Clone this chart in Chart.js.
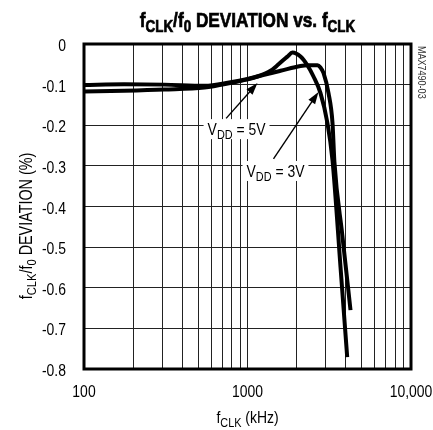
<!DOCTYPE html>
<html>
<head>
<meta charset="utf-8">
<script src="https://cdn.jsdelivr.net/npm/chart.js@4.4.1/dist/chart.umd.min.js"></script>
<style>
  body { margin: 0; background: #fff; }
  #wrap { width: 433px; height: 430px; }
</style>
</head>
<body>
<div id="wrap"><canvas id="dev-chart" width="433" height="430"></canvas></div>
<script>
const FONT = "'Liberation Sans', Arial, sans-serif";
const SQUEEZE = 0.82; // narrow look, Liberation Sans Narrow is not installed

// x values in kHz, deviation in %
const freq5V = [100, 176, 309, 546, 787, 1000, 1151, 1383, 1591, 2110, 2328, 2680, 2796, 2916, 3129, 3311, 3400, 3800, 4266];
const dev5V  = [-0.101, -0.099, -0.100, -0.103, -0.094, -0.086, -0.080, -0.072, -0.066, -0.054, -0.052, -0.052, -0.058, -0.071, -0.121, -0.195, -0.290, -0.470, -0.655];

const freq3V = [100, 176, 309, 546, 787, 1000, 1151, 1383, 1548, 1753, 1884, 2110, 2328, 2533, 2796, 3084, 3311, 3706, 4072];
const dev3V  = [-0.117, -0.115, -0.112, -0.107, -0.096, -0.087, -0.080, -0.066, -0.050, -0.031, -0.021, -0.031, -0.053, -0.080, -0.121, -0.195, -0.286, -0.549, -0.771];

const xTicks = [100, 200, 300, 400, 500, 600, 700, 800, 900, 1000, 2000, 3000, 4000, 5000, 6000, 7000, 8000, 9000, 10000];
const xLabels = {100: '100', 1000: '1000', 10000: '10,000'};

// callouts: label position and arrow from/to, in data units
const callouts = [
  { text: [['V'], ['DD', 1], [' = 5V']], at: [857, -0.212], from: [740, -0.183], to: [1151, -0.096] },
  { text: [['V'], ['DD', 1], [' = 3V']], at: [1483, -0.315], from: [1442, -0.283], to: [2717, -0.118] }
];

function toPts(xs, ys) {
  return xs.map((x, i) => ({ x: x, y: ys[i] }));
}

function setFont(ctx, size, bold) {
  ctx.font = (bold ? 'bold ' : '') + size + 'px ' + FONT;
}

function richWidth(ctx, parts, size, bold) {
  let w = 0;
  parts.forEach(p => {
    setFont(ctx, p[1] ? size * 0.78 : size, bold);
    w += ctx.measureText(p[0]).width;
  });
  return w * SQUEEZE;
}

// draws text with subscript parts; align: left | center | right
function drawRich(ctx, parts, x, y, size, bold, align) {
  const w = richWidth(ctx, parts, size, bold);
  let sx = x;
  if (align === 'center') sx = x - w / 2;
  if (align === 'right') sx = x - w;
  ctx.save();
  ctx.translate(sx, y);
  ctx.scale(SQUEEZE, 1);
  ctx.textAlign = 'left';
  ctx.textBaseline = 'alphabetic';
  let cx = 0;
  parts.forEach(p => {
    setFont(ctx, p[1] ? size * 0.78 : size, bold);
    ctx.fillText(p[0], cx, p[1] ? size * 0.25 : 0);
    if (bold) {
      ctx.lineWidth = 0.7;
      ctx.strokeStyle = ctx.fillStyle;
      ctx.strokeText(p[0], cx, p[1] ? size * 0.25 : 0);
    }
    cx += ctx.measureText(p[0]).width;
  });
  ctx.restore();
  return w;
}

function arrow(ctx, x1, y1, x2, y2) {
  const a = Math.atan2(y2 - y1, x2 - x1);
  const len = 12, hw = 4;
  ctx.beginPath();
  ctx.moveTo(x1, y1);
  ctx.lineTo(x2 - Math.cos(a) * len * 0.8, y2 - Math.sin(a) * len * 0.8);
  ctx.lineWidth = 1.4;
  ctx.strokeStyle = '#000';
  ctx.stroke();
  ctx.beginPath();
  ctx.moveTo(x2, y2);
  ctx.lineTo(x2 - Math.cos(a) * len - Math.sin(a) * hw, y2 - Math.sin(a) * len + Math.cos(a) * hw);
  ctx.lineTo(x2 - Math.cos(a) * len + Math.sin(a) * hw, y2 - Math.sin(a) * len - Math.cos(a) * hw);
  ctx.closePath();
  ctx.fillStyle = '#000';
  ctx.fill();
}

const decorPlugin = {
  id: 'decor',
  beforeDraw(chart) {
    const ctx = chart.ctx;
    ctx.save();
    ctx.fillStyle = '#fff';
    ctx.fillRect(0, 0, chart.width, chart.height);
    ctx.restore();
  },
  afterDatasetsDraw(chart) {
    const ctx = chart.ctx;
    const xs = chart.scales.x, ys = chart.scales.y;
    const area = chart.chartArea;
    ctx.save();

    // callout labels with white boxes, then arrows
    callouts.forEach(c => {
      const px = xs.getPixelForValue(c.at[0]);
      const py = ys.getPixelForValue(c.at[1]);
      const w = richWidth(ctx, c.text, 17, false);
      ctx.fillStyle = '#fff';
      ctx.fillRect(px - w / 2 - 4, py - 11, w + 8, 20);
      ctx.fillStyle = '#000';
      drawRich(ctx, c.text, px, py + 5, 17, false, 'center');
      arrow(ctx, xs.getPixelForValue(c.from[0]), ys.getPixelForValue(c.from[1]),
                 xs.getPixelForValue(c.to[0]), ys.getPixelForValue(c.to[1]));
    });

    // frame
    ctx.lineWidth = 3;
    ctx.strokeStyle = '#000';
    ctx.strokeRect(area.left, area.top, area.right - area.left, area.bottom - area.top);

    ctx.fillStyle = '#000';

    // tick labels
    ys.ticks.forEach(t => {
      const v = t.value;
      const lab = Math.abs(v) < 1e-9 ? '0' : v.toFixed(1);
      drawRich(ctx, [[lab]], area.left - 18, ys.getPixelForValue(v) + 7, 17, false, 'right');
    });
    Object.keys(xLabels).forEach(k => {
      drawRich(ctx, [[xLabels[k]]], xs.getPixelForValue(+k), 397, 17, false, 'center');
    });

    // title
    const cx = (area.left + area.right) / 2;
    drawRich(ctx, [['f'], ['CLK', 1], ['/f'], ['0', 1], [' DEVIATION vs. f'], ['CLK', 1]], cx, 27, 21, true, 'center');

    // x axis title
    drawRich(ctx, [['f'], ['CLK', 1], [' (kHz)']], cx, 423, 17, false, 'center');

    // y axis title
    ctx.save();
    ctx.translate(32, 226);
    ctx.rotate(-Math.PI / 2);
    drawRich(ctx, [['f'], ['CLK', 1], ['/f'], ['0', 1], [' DEVIATION (%)']], 0, 0, 17.5, false, 'center');
    ctx.restore();

    // figure id
    ctx.save();
    ctx.translate(418, 46);
    ctx.rotate(Math.PI / 2);
    ctx.fillStyle = '#333';
    drawRich(ctx, [['MAX7490-03']], 0, 0, 11, false, 'left');
    ctx.restore();

    ctx.restore();
  }
};

const lineStyle = {
  borderColor: '#000',
  borderWidth: 4,
  pointRadius: 0,
  fill: false,
  cubicInterpolationMode: 'monotone'
};

const config = {
  type: 'line',
  data: {
    datasets: [
      Object.assign({ label: 'VDD = 5V', data: toPts(freq5V, dev5V) }, lineStyle),
      Object.assign({ label: 'VDD = 3V', data: toPts(freq3V, dev3V) }, lineStyle)
    ]
  },
  options: {
    responsive: false,
    animation: false,
    layout: { padding: { top: 44, right: 22, left: 0, bottom: 0 } },
    plugins: {
      legend: { display: false },
      title: { display: false },
      tooltip: { enabled: false }
    },
    scales: {
      x: {
        type: 'logarithmic',
        min: 100,
        max: 10000,
        afterBuildTicks: s => { s.ticks = xTicks.map(v => ({ value: v })); },
        afterFit: s => { s.height = 61; },
        grid: { color: '#222', lineWidth: 1, drawTicks: false },
        border: { display: false },
        ticks: { display: false }
      },
      y: {
        min: -0.8,
        max: 0,
        afterFit: s => { s.width = 84; },
        grid: { color: '#222', lineWidth: 1, drawTicks: false },
        border: { display: false },
        ticks: { display: false, stepSize: 0.1 }
      }
    }
  },
  plugins: [decorPlugin]
};

let devObj = document.getElementById('dev-chart');
let devChart = new Chart(devObj, config);
</script>
</body>
</html>
